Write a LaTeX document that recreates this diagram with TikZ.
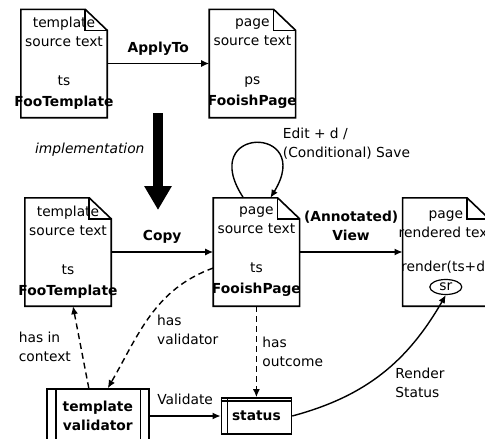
\documentclass[tikz,border=0pt]{standalone}
\usepackage{fontspec}
\setmainfont{DejaVu Sans}
\usetikzlibrary{arrows.meta, positioning, shapes.geometric, calc}

% page outline with a folded corner
\newcommand{\docframe}[1]{%
  \draw[docline] (#1.north west) -- ([xshift=-22pt]#1.north east) -- ([yshift=-21pt]#1.north east) -- (#1.south east) -- (#1.south west) -- cycle;
  \draw[docline] ([xshift=-22pt]#1.north east) |- ([yshift=-21pt]#1.north east);}

\begin{document}
\begin{tikzpicture}[
    x=1pt, y=1pt,
    >={Latex[length=8pt,width=7pt]},
    font=\fontsize{13.8}{19}\selectfont,
    % Style definitions
    doc/.style={text width=86pt, minimum height=108pt, inner sep=0pt, align=center},
    docline/.style={line width=1.6pt},
    procbox/.style={draw, line width=1.6pt, minimum width=102pt, minimum height=54pt, align=center, font=\fontsize{13.8}{19}\selectfont\bfseries},
    statusbox/.style={draw, line width=1.6pt, minimum width=70pt, minimum height=36pt, font=\fontsize{13.8}{19}\selectfont\bfseries},
    marker/.style={ellipse, draw, line width=1.2pt, inner sep=0pt, minimum width=32pt, minimum height=15pt},
    arrow/.style={->, line width=1.4pt},
    dasharrow/.style={->, line width=1.4pt, dash pattern=on 6pt off 4pt},
    edgelabel/.style={align=left},
    boldlabel/.style={align=center, font=\fontsize{13.8}{19}\selectfont\bfseries},
]
\useasboundingbox (0,0) rectangle (485,-439);
\clip (0,0) rectangle (485,-439);

%% ---------- TOP ROW ----------
\node[doc] (ts_top) at (64,-63.5) {template\\source text\\[20pt]ts\\[2pt]\makebox[0pt]{\bfseries FooTemplate}};
\node[doc, right=102pt of ts_top] (ps_top) {page\\source text\\[20pt]ps\\[2pt]\makebox[0pt]{\bfseries FooishPage}};
\docframe{ts_top}
\docframe{ps_top}

%% ---------- IMPLEMENTATION ----------
\coordinate (impl_top) at (158,-113);
\coordinate (impl_tip) at (158,-210);
\draw[line width=10pt, -{Triangle[length=24pt,width=26pt]}] (impl_top) -- (impl_tip);
\node[font=\fontsize{13.8}{19}\selectfont\itshape, anchor=east] (impl_label) at (148,-150) {implementation};

%% ---------- BOTTOM ROW ----------
\node[doc] (ts_copy) at (68,-252) {template\\source text\\[20pt]ts\\[2pt]\makebox[0pt]{\bfseries FooTemplate}};
\node[doc, right=102pt of ts_copy] (fp) {page\\source text\\[20pt]ts\\[2pt]\makebox[0pt]{\bfseries FooishPage}};
\node[doc, right=103pt of fp] (rend) {page\\\makebox[0pt]{rendered text}\\[15pt]\makebox[0pt]{render(ts+d)}\\[3pt]\mbox{}};
\docframe{ts_copy}
\docframe{fp}
\docframe{rend}
\node[marker] (sr) at ([yshift=-35pt]rend.center) {sr};

%% ---------- VALIDATION ----------
\node[statusbox, below=91pt of fp] (status) {status};
\node[procbox, left=71pt of status] (validator) {template\\validator};
\draw[docline] ([xshift=10pt]validator.north west) -- ([xshift=10pt]validator.south west);
\draw[docline] ([xshift=-9pt]validator.north east) -- ([xshift=-9pt]validator.south east);
\draw[docline] ([xshift=7pt]status.north west) -- ([xshift=7pt]status.south west);
\draw[docline] ([yshift=-4pt]status.north west) -- ([yshift=-4pt]status.north east);

%% ========== ARROWS ==========
\draw[arrow] (ts_top) -- node[boldlabel, above=4pt] (apply_label) {ApplyTo} (ps_top);
\draw[arrow] (ts_copy) -- node[boldlabel, above=4pt] (copy_label) {Copy} (fp);
\draw[arrow] (fp) -- node[boldlabel, above=7pt] (view_label) {(Annotated)\\View} (rend);

% edit loop
\draw[arrow] ([xshift=-13pt]fp.north) .. controls +(-48,73) and +(45,73) .. ([xshift=14pt]fp.north);
\node[edgelabel, anchor=west] (edit_label) at ([xshift=23pt, yshift=54pt]fp.north) {Edit + d /\\(Conditional) Save};

% relations
\draw[dasharrow] ([xshift=-9pt]validator.north) -- node[edgelabel, midway, left=6pt] (context_label) {has in\\context} ([xshift=5pt]ts_copy.south);
\draw[dasharrow] ([yshift=-16pt]fp.west) to[out=200, in=60] node[edgelabel, pos=0.5, anchor=north west, xshift=3pt, yshift=5pt] (has_validator_label) {has\\validator} ([xshift=10pt]validator.north);
\draw[dasharrow] (fp) -- node[edgelabel, midway, right=2pt] (outcome_label) {has\\outcome} (status);
\draw[arrow] (validator) -- node[above=7pt] (validate_label) {Validate} (status);
\draw[arrow] (status.east) to[out=15, in=240] node[edgelabel, midway, anchor=west, xshift=9pt, yshift=-10pt] (render_label) {Render\\Status} (sr.south);

\end{tikzpicture}
\end{document}
